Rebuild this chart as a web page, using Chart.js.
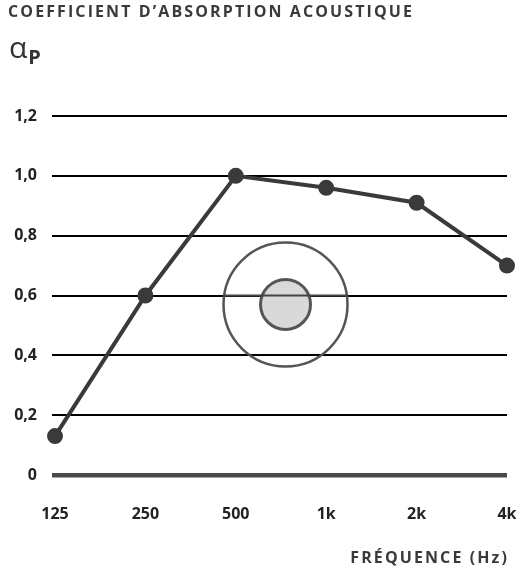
<!DOCTYPE html>
<html lang="fr">
<head>
<meta charset="UTF-8">
<script src="https://cdn.jsdelivr.net/npm/chart.js"></script>
<style>
  body { margin: 0; background: #fff; }
  #wrap { position: relative; width: 526px; height: 574px; font-family: "Open Sans", Lato, sans-serif; }
  #wrap canvas { position: absolute; left: 0; top: 0; }
  .title { position: absolute; left: 8px; top: 0px; font-size: 16px; font-weight: 700; color: #3a3a3a; letter-spacing: 2.1px; white-space: nowrap; }
  .alpha { position: absolute; left: 9px; top: 26px; font-size: 30px; color: #333; white-space: nowrap; }
  .alpha sub { font-size: 20px; font-weight: 700; vertical-align: -6px; margin-left: 1px; }
  .xtitle { position: absolute; right: 17px; top: 546px; font-size: 16px; font-weight: 700; color: #3a3a3a; letter-spacing: 2.1px; white-space: nowrap; }
</style>
</head>
<body>
<div id="wrap">
  <canvas id="myChart" width="526" height="574"></canvas>
  <div class="title">COEFFICIENT D’ABSORPTION ACOUSTIQUE</div>
  <div class="alpha">α<sub>P</sub></div>
  <div class="xtitle">FRÉQUENCE (Hz)</div>
</div>
<script>
  // frequency bands and absorption values
  const frequencies = ['125', '250', '500', '1k', '2k', '4k']
  const absorption = [0.13, 0.60, 1.00, 0.96, 0.91, 0.70]
  const yTicks = [0, 0.2, 0.4, 0.6, 0.8, 1.0, 1.2]

  const tickFont = { family: 'Open Sans', size: 16, weight: 'bold' }

  // the round product icon behind the grid
  const iconPlugin = {
    id: 'icon',
    beforeDatasetsDraw(chart) {
      const ctx = chart.ctx
      const cx = chart.scales.x.getPixelForValue(2.55)
      const cy = chart.scales.y.getPixelForValue(0.57)
      ctx.save()
      ctx.strokeStyle = '#555'
      ctx.lineWidth = 2.5
      ctx.beginPath()
      ctx.arc(cx, cy, 62, 0, Math.PI * 2)
      ctx.stroke()
      ctx.beginPath()
      ctx.arc(cx, cy, 25, 0, Math.PI * 2)
      ctx.fillStyle = '#d9d9d9'
      ctx.fill()
      ctx.lineWidth = 3
      ctx.stroke()
      // grid line crossing the icon
      const gy = chart.scales.y.getPixelForValue(0.6)
      ctx.strokeStyle = '#444'
      ctx.lineWidth = 2
      ctx.beginPath()
      ctx.moveTo(cx - 62, gy)
      ctx.lineTo(cx + 62, gy)
      ctx.stroke()
      ctx.restore()
    }
  }

  new Chart(document.getElementById('myChart'), {
    type: 'line',
    data: {
      labels: frequencies,
      datasets: [{
        data: absorption,
        borderColor: '#3a3a3a',
        backgroundColor: '#3a3a3a',
        borderWidth: 4,
        pointRadius: 6,
        pointHoverRadius: 6,
        tension: 0,
        clip: false
      }]
    },
    options: {
      responsive: false,
      animation: false,
      layout: { padding: { top: 116, right: 19, bottom: 0, left: 0 } },
      plugins: { legend: { display: false }, tooltip: { enabled: false } },
      scales: {
        x: {
          offset: false,
          grid: { display: false },
          border: { display: false },
          ticks: { padding: 22, color: '#222', font: tickFont, maxRotation: 0 },
          afterFit(scale) {
            scale.height = 99
            scale.paddingLeft = 0
            scale.paddingRight = 0
          }
        },
        y: {
          min: 0,
          max: 1.2,
          afterBuildTicks(scale) { scale.ticks = yTicks.map(v => ({ value: v })) },
          border: { display: false },
          grid: {
            tickLength: 3,
            color: c => c.tick && c.tick.value === 0 ? '#4a4a4a' : '#000',
            lineWidth: c => c.tick && c.tick.value === 0 ? 4.5 : 2
          },
          ticks: {
            padding: 15,
            color: '#222',
            font: tickFont,
            callback: v => v === 0 ? '0' : v.toFixed(1).replace('.', ',')
          },
          afterFit(scale) {
            scale.width = 55
            scale.paddingTop = 0
            scale.paddingBottom = 0
          }
        }
      }
    },
    plugins: [iconPlugin]
  })
</script>
</body>
</html>
